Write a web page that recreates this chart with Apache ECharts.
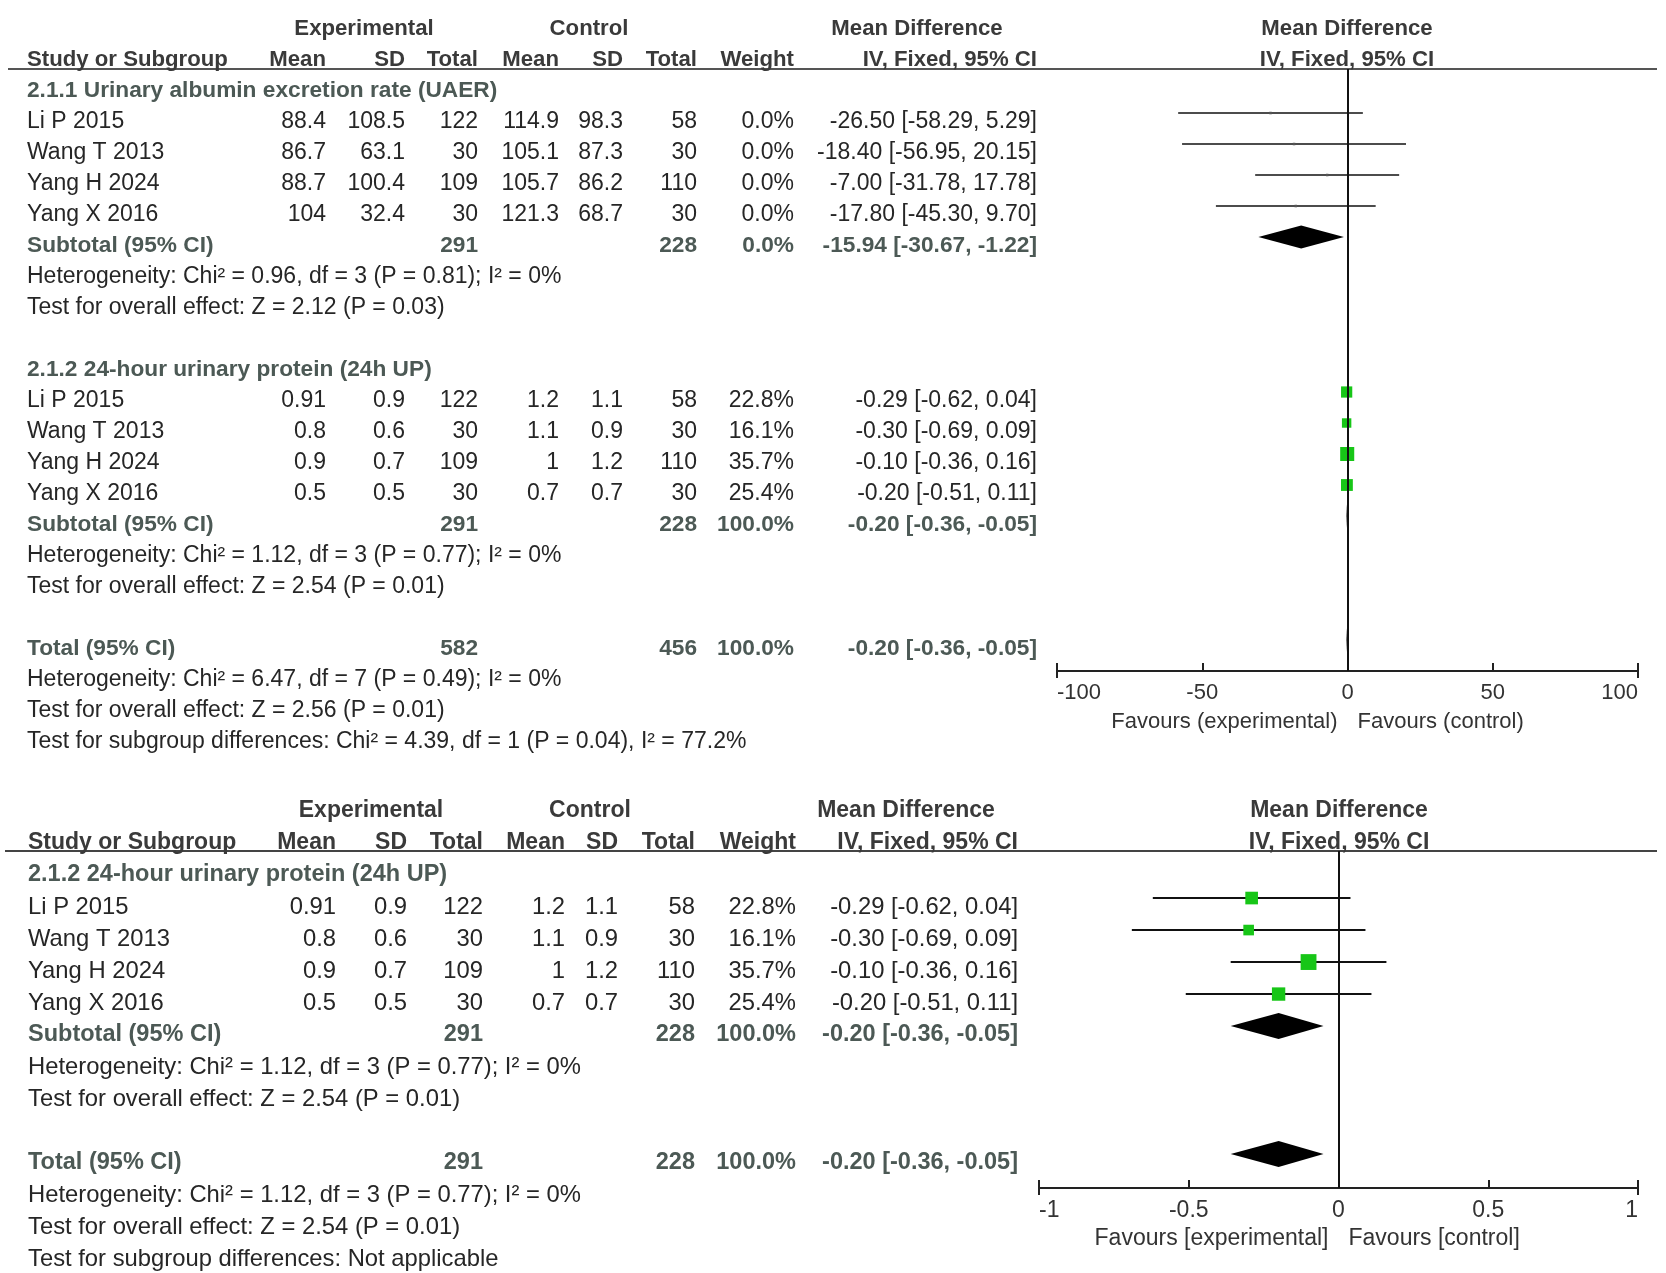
<!DOCTYPE html>
<html>
<head>
<meta charset="utf-8">
<script src="https://cdn.jsdelivr.net/npm/echarts@6/dist/echarts.min.js"></script>
<style>
html, body { margin: 0; padding: 0; background: #fff; }
#chart { width: 1666px; height: 1273px; }
</style>
</head>
<body>
<div id="chart"></div>
<script>
// ---------- data ----------
var studies = ['Li P 2015', 'Wang T 2013', 'Yang H 2024', 'Yang X 2016'];

// 2.1.1 Urinary albumin excretion rate (UAER)
var uaerExpMean = [88.4, 86.7, 88.7, 104];
var uaerExpSd = [108.5, 63.1, 100.4, 32.4];
var uaerExpN = [122, 30, 109, 30];
var uaerCtlMean = [114.9, 105.1, 105.7, 121.3];
var uaerCtlSd = [98.3, 87.3, 86.2, 68.7];
var uaerCtlN = [58, 30, 110, 30];
var uaerWeight = [0, 0, 0, 0];
var uaerMd = [-26.50, -18.40, -7.00, -17.80];
var uaerLo = [-58.29, -56.95, -31.78, -45.30];
var uaerHi = [5.29, 20.15, 17.78, 9.70];
var uaerSub = [-15.94, -30.67, -1.22];      // md, lo, hi
var uaerSubN = [291, 228];
var uaerSubW = 0;
var uaerHet = [0.96, 3, 0.81, 0];          // chi2, df, P, I2
var uaerZ = [2.12, 0.03];                  // Z, P

// 2.1.2 24-hour urinary protein (24h UP)
var upExpMean = [0.91, 0.8, 0.9, 0.5];
var upExpSd = [0.9, 0.6, 0.7, 0.5];
var upExpN = [122, 30, 109, 30];
var upCtlMean = [1.2, 1.1, 1, 0.7];
var upCtlSd = [1.1, 0.9, 1.2, 0.7];
var upCtlN = [58, 30, 110, 30];
var upWeight = [22.8, 16.1, 35.7, 25.4];
var upMd = [-0.29, -0.30, -0.10, -0.20];
var upLo = [-0.62, -0.69, -0.36, -0.51];
var upHi = [0.04, 0.09, 0.16, 0.11];
var upSub = [-0.20, -0.36, -0.05];
var upSubN = [291, 228];
var upSubW = 100;
var upHet = [1.12, 3, 0.77, 0];
var upZ = [2.54, 0.01];

// overall (upper figure)
var totalTop = [-0.20, -0.36, -0.05];
var totalTopN = [582, 456];
var totalTopHet = [6.47, 7, 0.49, 0];
var totalTopZ = [2.56, 0.01];
var subgroupDiff = [4.39, 1, 0.04, 77.2];

// overall (lower figure)
var totalBottom = [-0.20, -0.36, -0.05];
var totalBottomN = [291, 228];
var totalBottomHet = [1.12, 3, 0.77, 0];
var totalBottomZ = [2.54, 0.01];

var topTicks = [-100, 100, 50];
var bottomTicks = [-1, 1, 0.5];

// ---------- text helpers ----------
var FONT = '"Liberation Sans", Arial, sans-serif';
var C_REG = '#262626', C_HEAD = '#3a3a3a', C_GRP = '#4c5955';

function f2(v) { return v.toFixed(2); }
function ciText(a) { return f2(a[0]) + ' [' + f2(a[1]) + ', ' + f2(a[2]) + ']'; }
function hetText(h) {
  return 'Heterogeneity: Chi\u00b2 = ' + h[0].toFixed(2) + ', df = ' + h[1] +
    ' (P = ' + h[2].toFixed(2) + '); I\u00b2 = ' + h[3] + '%';
}
function zText(z) { return 'Test for overall effect: Z = ' + z[0].toFixed(2) + ' (P = ' + z[1].toFixed(2) + ')'; }

var groupUaer = {
  title: '2.1.1 Urinary albumin excretion rate (UAER)',
  em: uaerExpMean, esd: uaerExpSd, en: uaerExpN, cm: uaerCtlMean, csd: uaerCtlSd, cn: uaerCtlN,
  w: uaerWeight, md: uaerMd, lo: uaerLo, hi: uaerHi,
  sub: uaerSub, subN: uaerSubN, subW: uaerSubW, het: uaerHet, z: uaerZ
};
var groupUp = {
  title: '2.1.2 24-hour urinary protein (24h UP)',
  em: upExpMean, esd: upExpSd, en: upExpN, cm: upCtlMean, csd: upCtlSd, cn: upCtlN,
  w: upWeight, md: upMd, lo: upLo, hi: upHi,
  sub: upSub, subN: upSubN, subW: upSubW, het: upHet, z: upZ
};

// builds text cells and forest items of one panel
function buildPanel(col, fs, groups, groupRows, total, totalRow, tailLines) {
  var cells = [], studyItems = [], diamonds = [];
  function cell(x, r, text, align, font, color) {
    cells.push({ x: x, r: r, text: String(text), align: align, font: font, color: color });
  }
  var reg = fs.reg + 'px ' + FONT;
  var bold = 'bold ' + fs.bold + 'px ' + FONT;
  var head = 'bold ' + fs.head + 'px ' + FONT;
  // headers
  cell(col.hExp, -2, 'Experimental', 'center', head, C_HEAD);
  cell(col.hCtl, -2, 'Control', 'center', head, C_HEAD);
  cell(col.hMd, -2, 'Mean Difference', 'center', head, C_HEAD);
  cell(col.hPlot, -2, 'Mean Difference', 'center', head, C_HEAD);
  cell(col.name, -1, 'Study or Subgroup', 'left', head, C_HEAD);
  cell(col.em, -1, 'Mean', 'right', head, C_HEAD);
  cell(col.esd, -1, 'SD', 'right', head, C_HEAD);
  cell(col.en, -1, 'Total', 'right', head, C_HEAD);
  cell(col.cm, -1, 'Mean', 'right', head, C_HEAD);
  cell(col.csd, -1, 'SD', 'right', head, C_HEAD);
  cell(col.cn, -1, 'Total', 'right', head, C_HEAD);
  cell(col.w, -1, 'Weight', 'right', head, C_HEAD);
  cell(col.ci, -1, 'IV, Fixed, 95% CI', 'right', head, C_HEAD);
  cell(col.hPlot, -1, 'IV, Fixed, 95% CI', 'center', head, C_HEAD);

  groups.forEach(function (g, gi) {
    var r0 = groupRows[gi];
    cell(col.name, r0, g.title, 'left', bold, C_GRP);
    studies.forEach(function (s, i) {
      var r = r0 + 1 + i;
      cell(col.name, r, s, 'left', reg, C_REG);
      cell(col.em, r, g.em[i], 'right', reg, C_REG);
      cell(col.esd, r, g.esd[i], 'right', reg, C_REG);
      cell(col.en, r, g.en[i], 'right', reg, C_REG);
      cell(col.cm, r, g.cm[i], 'right', reg, C_REG);
      cell(col.csd, r, g.csd[i], 'right', reg, C_REG);
      cell(col.cn, r, g.cn[i], 'right', reg, C_REG);
      cell(col.w, r, g.w[i].toFixed(1) + '%', 'right', reg, C_REG);
      cell(col.ci, r, ciText([g.md[i], g.lo[i], g.hi[i]]), 'right', reg, C_REG);
      studyItems.push([g.md[i], g.lo[i], g.hi[i], r, g.w[i]]);
    });
    var rs = r0 + 5;
    cell(col.name, rs, 'Subtotal (95% CI)', 'left', bold, C_GRP);
    cell(col.en, rs, g.subN[0], 'right', bold, C_GRP);
    cell(col.cn, rs, g.subN[1], 'right', bold, C_GRP);
    cell(col.w, rs, g.subW.toFixed(1) + '%', 'right', bold, C_GRP);
    cell(col.ci, rs, ciText(g.sub), 'right', bold, C_GRP);
    cell(col.name, rs + 1, hetText(g.het), 'left', reg, C_REG);
    cell(col.name, rs + 2, zText(g.z), 'left', reg, C_REG);
    diamonds.push([g.sub[0], g.sub[1], g.sub[2], rs]);
  });

  cell(col.name, totalRow, 'Total (95% CI)', 'left', bold, C_GRP);
  cell(col.en, totalRow, total.n[0], 'right', bold, C_GRP);
  cell(col.cn, totalRow, total.n[1], 'right', bold, C_GRP);
  cell(col.w, totalRow, '100.0%', 'right', bold, C_GRP);
  cell(col.ci, totalRow, ciText(total.ci), 'right', bold, C_GRP);
  diamonds.push([total.ci[0], total.ci[1], total.ci[2], totalRow]);
  tailLines.forEach(function (t, i) { cell(col.name, totalRow + 1 + i, t, 'left', reg, C_REG); });

  return { cells: cells, studies: studyItems, diamonds: diamonds };
}

var topPanel = buildPanel(
  { name: 27, em: 326, esd: 405, en: 478, cm: 559, csd: 623, cn: 697, w: 794, ci: 1037,
    hExp: 364, hCtl: 589, hMd: 917, hPlot: 1347 },
  { reg: 23, bold: 22.7, head: 22.2 },
  [groupUaer, groupUp], [0, 9],
  { ci: totalTop, n: totalTopN }, 18,
  [hetText(totalTopHet), zText(totalTopZ),
   'Test for subgroup differences: Chi\u00b2 = ' + subgroupDiff[0].toFixed(2) + ', df = ' + subgroupDiff[1] +
   ' (P = ' + subgroupDiff[2].toFixed(2) + '), I\u00b2 = ' + subgroupDiff[3] + '%']
);

var bottomPanel = buildPanel(
  { name: 28, em: 336, esd: 407, en: 483, cm: 565, csd: 618, cn: 695, w: 796, ci: 1018,
    hExp: 371, hCtl: 590, hMd: 906, hPlot: 1339 },
  { reg: 23.8, bold: 23.5, head: 23 },
  [groupUp], [0],
  { ci: totalBottom, n: totalBottomN }, 9,
  [hetText(totalBottomHet), zText(totalBottomZ), 'Test for subgroup differences: Not applicable']
);

// ---------- renderers ----------
function textSeries(idx, panel) {
  return {
    type: 'custom', xAxisIndex: idx, yAxisIndex: idx, clip: false, silent: true,
    data: panel.cells.map(function (c) { return [c.x, c.r]; }),
    renderItem: function (params, api) {
      var c = panel.cells[params.dataIndex];
      var p = api.coord([api.value(0), api.value(1)]);
      return {
        type: 'text',
        style: {
          x: p[0], y: p[1], text: c.text, font: c.font, fill: c.color,
          align: c.align, textAlign: c.align, verticalAlign: 'middle', textVerticalAlign: 'middle'
        }
      };
    }
  };
}

function ciSeries(idx, items, k, lw) {
  return {
    type: 'custom', xAxisIndex: idx, yAxisIndex: idx, clip: false, silent: true,
    encode: { x: [0, 1, 2], y: 3 },
    data: items,
    renderItem: function (params, api) {
      var row = api.value(3), w = api.value(4);
      var a = api.coord([api.value(1), row]);
      var b = api.coord([api.value(2), row]);
      var c = api.coord([api.value(0), row]);
      var s = w > 0 ? k * Math.sqrt(w) : 2.5;
      return {
        type: 'group',
        children: [
          { type: 'line', shape: { x1: a[0], y1: a[1], x2: b[0], y2: b[1] },
            style: { stroke: '#111', lineWidth: lw } },
          { type: 'rect', shape: { x: c[0] - s / 2, y: c[1] - s / 2, width: s, height: s },
            style: { fill: w > 0 ? '#17c617' : '#555' } }
        ]
      };
    },
    markLine: {
      silent: true, symbol: ['none', 'none'], animation: false,
      label: { show: false },
      lineStyle: { color: '#111', width: 2, type: 'solid' },
      data: [{ xAxis: 0 }]
    }
  };
}

function diamondSeries(idx, items, h) {
  return {
    type: 'custom', xAxisIndex: idx, yAxisIndex: idx, clip: false, silent: true,
    encode: { x: [0, 1, 2], y: 3 },
    data: items,
    renderItem: function (params, api) {
      var row = api.value(3);
      var l = api.coord([api.value(1), row]);
      var r = api.coord([api.value(2), row]);
      var m = api.coord([api.value(0), row]);
      return {
        type: 'polygon',
        shape: { points: [[l[0], l[1]], [m[0], m[1] - h], [r[0], r[1]], [m[0], m[1] + h]] },
        style: { fill: '#000' }
      };
    }
  };
}

function favoursSeries(idx, ticks, rowMax, left, right, fs) {
  return {
    type: 'custom', xAxisIndex: idx, yAxisIndex: idx, clip: false, silent: true,
    data: [[0, rowMax]],
    renderItem: function (params, api) {
      var z = api.coord([0, rowMax]);
      var lo = api.coord([ticks[0], rowMax]);
      var hi = api.coord([ticks[1], rowMax]);
      var font = fs + 'px ' + FONT;
      return {
        type: 'group',
        children: [
          { type: 'line', shape: { x1: lo[0], y1: lo[1], x2: lo[0], y2: lo[1] + 7 }, style: { stroke: '#222', lineWidth: 2 } },
          { type: 'line', shape: { x1: hi[0], y1: hi[1], x2: hi[0], y2: hi[1] + 7 }, style: { stroke: '#222', lineWidth: 2 } },
          { type: 'text', style: { x: z[0] - 10, y: z[1] + 51, text: left, font: font, fill: '#333',
            align: 'right', textAlign: 'right', verticalAlign: 'middle', textVerticalAlign: 'middle' } },
          { type: 'text', style: { x: z[0] + 10, y: z[1] + 51, text: right, font: font, fill: '#333',
            align: 'left', textAlign: 'left', verticalAlign: 'middle', textVerticalAlign: 'middle' } }
        ]
      };
    }
  };
}

function hiddenAxis(min, max, inverse) {
  return { type: 'value', min: min, max: max, inverse: !!inverse, show: false };
}
function plotXAxis(idx, ticks, fs) {
  return {
    type: 'value', gridIndex: idx, min: ticks[0], max: ticks[1], interval: ticks[2],
    axisLine: { show: true, onZero: false, lineStyle: { color: '#222', width: 2 } },
    axisTick: { show: true, inside: true, length: 8, lineStyle: { color: '#222', width: 2 } },
    axisLabel: { color: '#333', fontSize: fs, fontFamily: FONT, margin: 11,
      alignMinLabel: 'left', alignMaxLabel: 'right' },
    splitLine: { show: false }
  };
}

var chart = echarts.init(document.getElementById('chart'));
var option = {
  backgroundColor: '#fff',
  animation: false,
  grid: [
    { left: 0, right: 0, top: 29, height: 713, outerBoundsMode: 'none' },
    { left: 1057, right: 28, top: 69, height: 602, outerBoundsMode: 'none' },
    { left: 0, right: 0, top: 811, height: 448, outerBoundsMode: 'none' },
    { left: 1039, right: 28, top: 851, height: 337, outerBoundsMode: 'none' }
  ],
  xAxis: [
    Object.assign(hiddenAxis(0, 1666), { gridIndex: 0 }),
    plotXAxis(1, topTicks, 22),
    Object.assign(hiddenAxis(0, 1666), { gridIndex: 2 }),
    plotXAxis(3, bottomTicks, 23)
  ],
  yAxis: [
    Object.assign(hiddenAxis(-2, 21, true), { gridIndex: 0 }),
    Object.assign(hiddenAxis(-0.42, 19, true), { gridIndex: 1 }),
    Object.assign(hiddenAxis(-2, 12, true), { gridIndex: 2 }),
    Object.assign(hiddenAxis(-0.47, 10.06, true), { gridIndex: 3 })
  ],
  graphic: [
    { type: 'line', shape: { x1: 8, y1: 69, x2: 1657, y2: 69 }, style: { stroke: '#555', lineWidth: 2 }, silent: true },
    { type: 'line', shape: { x1: 5, y1: 851, x2: 1657, y2: 851 }, style: { stroke: '#444', lineWidth: 2 }, silent: true }
  ],
  series: [
    textSeries(0, topPanel),
    ciSeries(1, topPanel.studies, 2.35, 1.4),
    diamondSeries(1, topPanel.diamonds, 11.5),
    favoursSeries(1, topTicks, 19, 'Favours (experimental)', 'Favours (control)', 22),
    textSeries(2, bottomPanel),
    ciSeries(3, bottomPanel.studies, 2.65, 2),
    diamondSeries(3, bottomPanel.diamonds, 13),
    favoursSeries(3, bottomTicks, 10.06, 'Favours [experimental]', 'Favours [control]', 23)
  ]
};
chart.setOption(option);
</script>
</body>
</html>
